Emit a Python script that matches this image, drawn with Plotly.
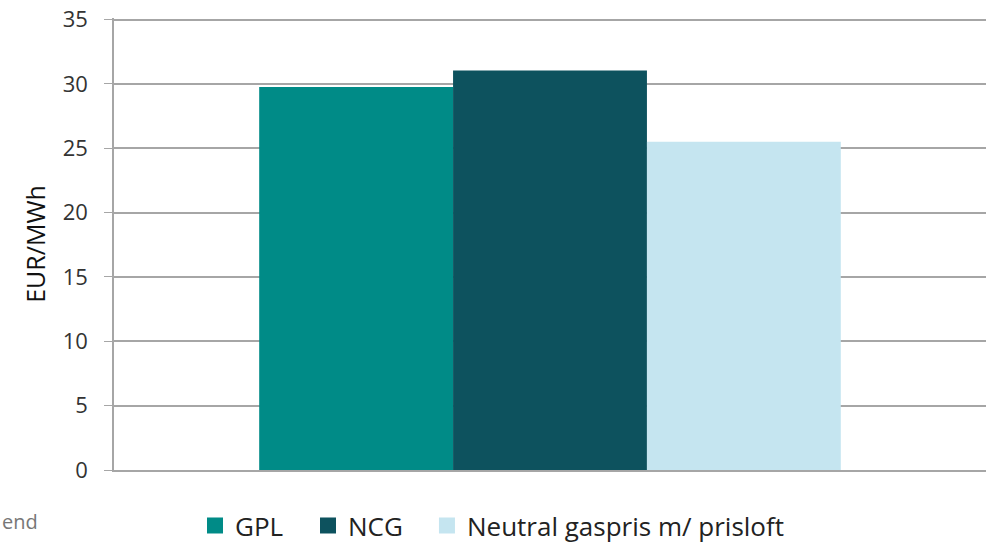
import plotly.graph_objects as go

categories = [""]
series_names = ["GPL", "NCG", "Neutral gaspris m/ prisloft"]
series_values = [[29.75], [31.05], [25.5]]
colors = ["#008B87", "#0D525E", "#C5E5F0"]
y_ticks = [0, 5, 10, 15, 20, 25, 30, 35]

legend_ids = ["legend", "legend2", "legend3"]
legend_x = [0.0929, 0.2225, 0.3589]

fig = go.Figure()
for name, vals, c in zip(series_names, series_values, colors):
    fig.add_trace(go.Bar(x=categories, y=vals, name=name, marker_color=c,
                         marker_line_width=0, showlegend=False))
# legend-only entries (bigger square swatches)
for name, c, lid in zip(series_names, colors, legend_ids):
    fig.add_trace(go.Scatter(x=[None], y=[None], mode="markers", name=name,
                             marker=dict(symbol="square", size=16, color=c),
                             legend=lid, showlegend=True))

legend_common = dict(orientation="h", xanchor="left", y=-0.071, yanchor="top",
                     font=dict(size=26, color="#222222"), itemwidth=30,
                     itemsizing="trace", bgcolor="rgba(0,0,0,0)")
fig.update_layout(
    width=999, height=543,
    margin=dict(l=114, r=13, t=18, b=73, autoexpand=False),
    paper_bgcolor="white", plot_bgcolor="white",
    barmode="group", bargap=0.333, bargroupgap=0,
    font=dict(family="Open Sans", color="#222222"),
    showlegend=True,
    legend=dict(x=legend_x[0], **legend_common),
    legend2=dict(x=legend_x[1], **legend_common),
    legend3=dict(x=legend_x[2], **legend_common),
)
fig.update_xaxes(showticklabels=False, showline=True, linecolor="#A6A6A6", linewidth=1.5,
                 showgrid=False, zeroline=False)
fig.update_yaxes(range=[0, 35.12], tickvals=y_ticks, showgrid=True, gridcolor="#A6A6A6",
                 gridwidth=1.5, showline=True, linecolor="#A6A6A6", linewidth=1.5,
                 ticks="outside", ticklen=8, tickcolor="#A6A6A6", zeroline=False,
                 automargin=False, ticklabelstandoff=12, ticklabeloverflow="allow",
                 tickfont=dict(size=22, color="#333333"),
                 title=dict(text="EUR/MWh", font=dict(size=25, color="#111111"), standoff=10))
fig.add_annotation(text="end", xref="paper", yref="paper", x=-0.1307, xanchor="left",
                   y=-0.115, yanchor="middle", showarrow=False,
                   font=dict(size=20, color="#777777"))
fig.write_html("out.html", config={"displayModeBar": False},
               post_script="document.body.style.margin='0';document.body.style.overflow='hidden';")
